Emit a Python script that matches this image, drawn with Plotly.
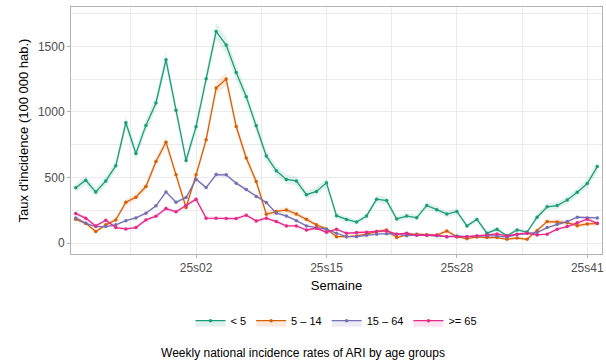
import plotly.graph_objects as go

weeks = list(range(53))  # 2024s42 .. 2025s42
tick_pos = [12, 25, 38, 51]
tick_labels = ["25s02", "25s15", "25s28", "25s41"]

groups = ["< 5", "5 – 14", "15 – 64", ">= 65"]
colors = ["#1B9E77", "#D95F02", "#7570B3", "#E7298A"]
fills = ["rgba(27,158,119,0.13)", "rgba(217,95,2,0.13)", "rgba(117,112,179,0.13)", "rgba(231,41,138,0.13)"]

lt5 = [422, 480, 390, 475, 591, 918, 684, 898, 1069, 1398, 1014, 630, 888, 1253, 1614, 1510, 1301, 1117, 895, 665,
       552, 486, 475, 370, 395, 460, 210, 181, 161, 208, 336, 325, 185, 207, 195, 288, 256, 222, 242, 132,
       181, 77, 106, 57, 101, 85, 198, 278, 287, 329, 388, 455, 584]
a5_14 = [183, 152, 89, 140, 178, 312, 351, 432, 623, 770, 521, 272, 521, 788, 1182, 1251, 889, 650, 470, 221,
         241, 254, 223, 183, 140, 109, 50, 50, 56, 69, 89, 101, 43, 63, 69, 65, 62, 93, 50, 35,
         48, 43, 43, 30, 40, 30, 96, 165, 162, 157, 134, 147, 150]
a15_64 = [193, 152, 127, 127, 140, 172, 193, 229, 285, 391, 313, 348, 488, 424, 523, 521, 458, 409, 356, 310,
          229, 208, 172, 132, 119, 107, 76, 50, 50, 61, 69, 73, 69, 58, 63, 61, 58, 50, 56, 50,
          56, 56, 56, 46, 66, 76, 81, 119, 145, 165, 198, 193, 193]
ge65 = [226, 191, 132, 175, 119, 109, 119, 178, 206, 264, 239, 287, 336, 191, 191, 188, 188, 214, 170, 191,
        165, 132, 132, 101, 114, 84, 107, 76, 81, 84, 89, 94, 69, 76, 61, 60, 61, 50, 50, 50,
        56, 61, 71, 56, 69, 76, 63, 69, 107, 127, 157, 183, 152]

# half-width of the confidence band
hw_lt5 = [33, 35, 32, 35, 39, 48, 42, 48, 52, 60, 51, 40, 48, 57, 64, 62, 58, 53, 48, 41,
          38, 35, 35, 31, 32, 34, 23, 22, 20, 23, 29, 29, 22, 23, 22, 27, 26, 24, 25, 18,
          22, 14, 16, 12, 16, 15, 23, 27, 27, 29, 32, 34, 39]
hw_5_14 = [19, 17, 13, 17, 19, 25, 26, 29, 35, 39, 32, 23, 32, 39, 48, 50, 42, 36, 30, 21,
           22, 22, 21, 19, 17, 15, 10, 10, 10, 12, 13, 14, 9, 11, 12, 11, 11, 13, 10, 8,
           10, 9, 9, 8, 9, 8, 14, 18, 18, 18, 16, 17, 17]
hw_15_64 = [10, 9, 8, 8, 8, 9, 10, 11, 12, 14, 12, 13, 15, 14, 16, 16, 15, 14, 13, 12,
            11, 10, 9, 8, 8, 7, 6, 5, 5, 5, 6, 6, 6, 5, 6, 5, 5, 5, 5, 5,
            5, 5, 5, 5, 6, 6, 6, 8, 8, 9, 10, 10, 10]
hw_ge65 = [15, 14, 11, 13, 11, 10, 11, 13, 14, 16, 15, 17, 18, 14, 14, 14, 14, 15, 13, 14,
           13, 11, 11, 10, 11, 9, 10, 9, 9, 9, 9, 10, 8, 9, 8, 8, 8, 7, 7, 7,
           7, 8, 8, 7, 8, 9, 8, 8, 10, 11, 13, 14, 12]

series = [lt5, a5_14, a15_64, ge65]
halfw = [hw_lt5, hw_5_14, hw_15_64, hw_ge65]

fig = go.Figure()
for name, col, fc, vals, hw in zip(groups, colors, fills, series, halfw):
    lower = [v - h for v, h in zip(vals, hw)]
    upper = [v + h for v, h in zip(vals, hw)]
    fig.add_trace(go.Scatter(x=weeks, y=lower, mode="lines", line=dict(width=0, color=col),
                             showlegend=False, hoverinfo="skip"))
    fig.add_trace(go.Scatter(x=weeks, y=vals, mode="lines+markers", name=name,
                             line=dict(color=col, width=1.3), marker=dict(color=col, size=3.5),
                             fill="tonexty", fillcolor=fc))
    fig.add_trace(go.Scatter(x=weeks, y=upper, mode="lines", line=dict(width=0, color=col),
                             showlegend=False, hoverinfo="skip", fill="tonexty", fillcolor=fc))

grid = "#ebebeb"
fig.update_layout(
    width=606, height=362,
    margin=dict(l=71, r=2, t=7, b=108),
    paper_bgcolor="white", plot_bgcolor="white",
    font=dict(family="Liberation Sans, Arial, sans-serif", color="black", size=12),
    showlegend=True,
    legend=dict(orientation="h", x=0.5, xanchor="center", y=-0.27, yanchor="middle",
                font=dict(size=11), itemwidth=30, traceorder="normal"),
    title=dict(text="Weekly national incidence rates of ARI by age groups", xref="container",
               x=0.5, xanchor="center", yref="container", y=0.015, yanchor="bottom",
               font=dict(size=12, color="black")),
    xaxis=dict(range=[-0.47, 52.47], tickmode="array", tickvals=tick_pos, ticktext=tick_labels,
               showgrid=True, gridcolor=grid, gridwidth=1, zeroline=False,
               ticks="outside", ticklen=3, tickcolor="#b3b3b3",
               tickfont=dict(size=12, color="#4d4d4d"),
               showline=True, mirror=True, linecolor="#b3b3b3", linewidth=1,
               minor=dict(tickmode="array", tickvals=[5.5, 18.5, 31.5, 44.5], showgrid=True,
                          gridcolor=grid, gridwidth=0.6, ticks=""),
               title=dict(text="Semaine", font=dict(size=13), standoff=6)),
    yaxis=dict(range=[-82, 1800], tickmode="array", tickvals=[0, 500, 1000, 1500],
               showgrid=True, gridcolor=grid, gridwidth=1, zeroline=False,
               ticks="outside", ticklen=3, tickcolor="#b3b3b3",
               tickfont=dict(size=12, color="#4d4d4d"),
               showline=True, mirror=True, linecolor="#b3b3b3", linewidth=1,
               minor=dict(tickmode="array", tickvals=[250, 750, 1250, 1750], showgrid=True,
                          gridcolor=grid, gridwidth=0.6, ticks=""),
               title=dict(text="Taux d'incidence (100 000 hab.)", font=dict(size=13), standoff=6)),
)

fig.write_html("out.html", config={"displayModeBar": False},
               post_script="document.body.style.margin='0';")
